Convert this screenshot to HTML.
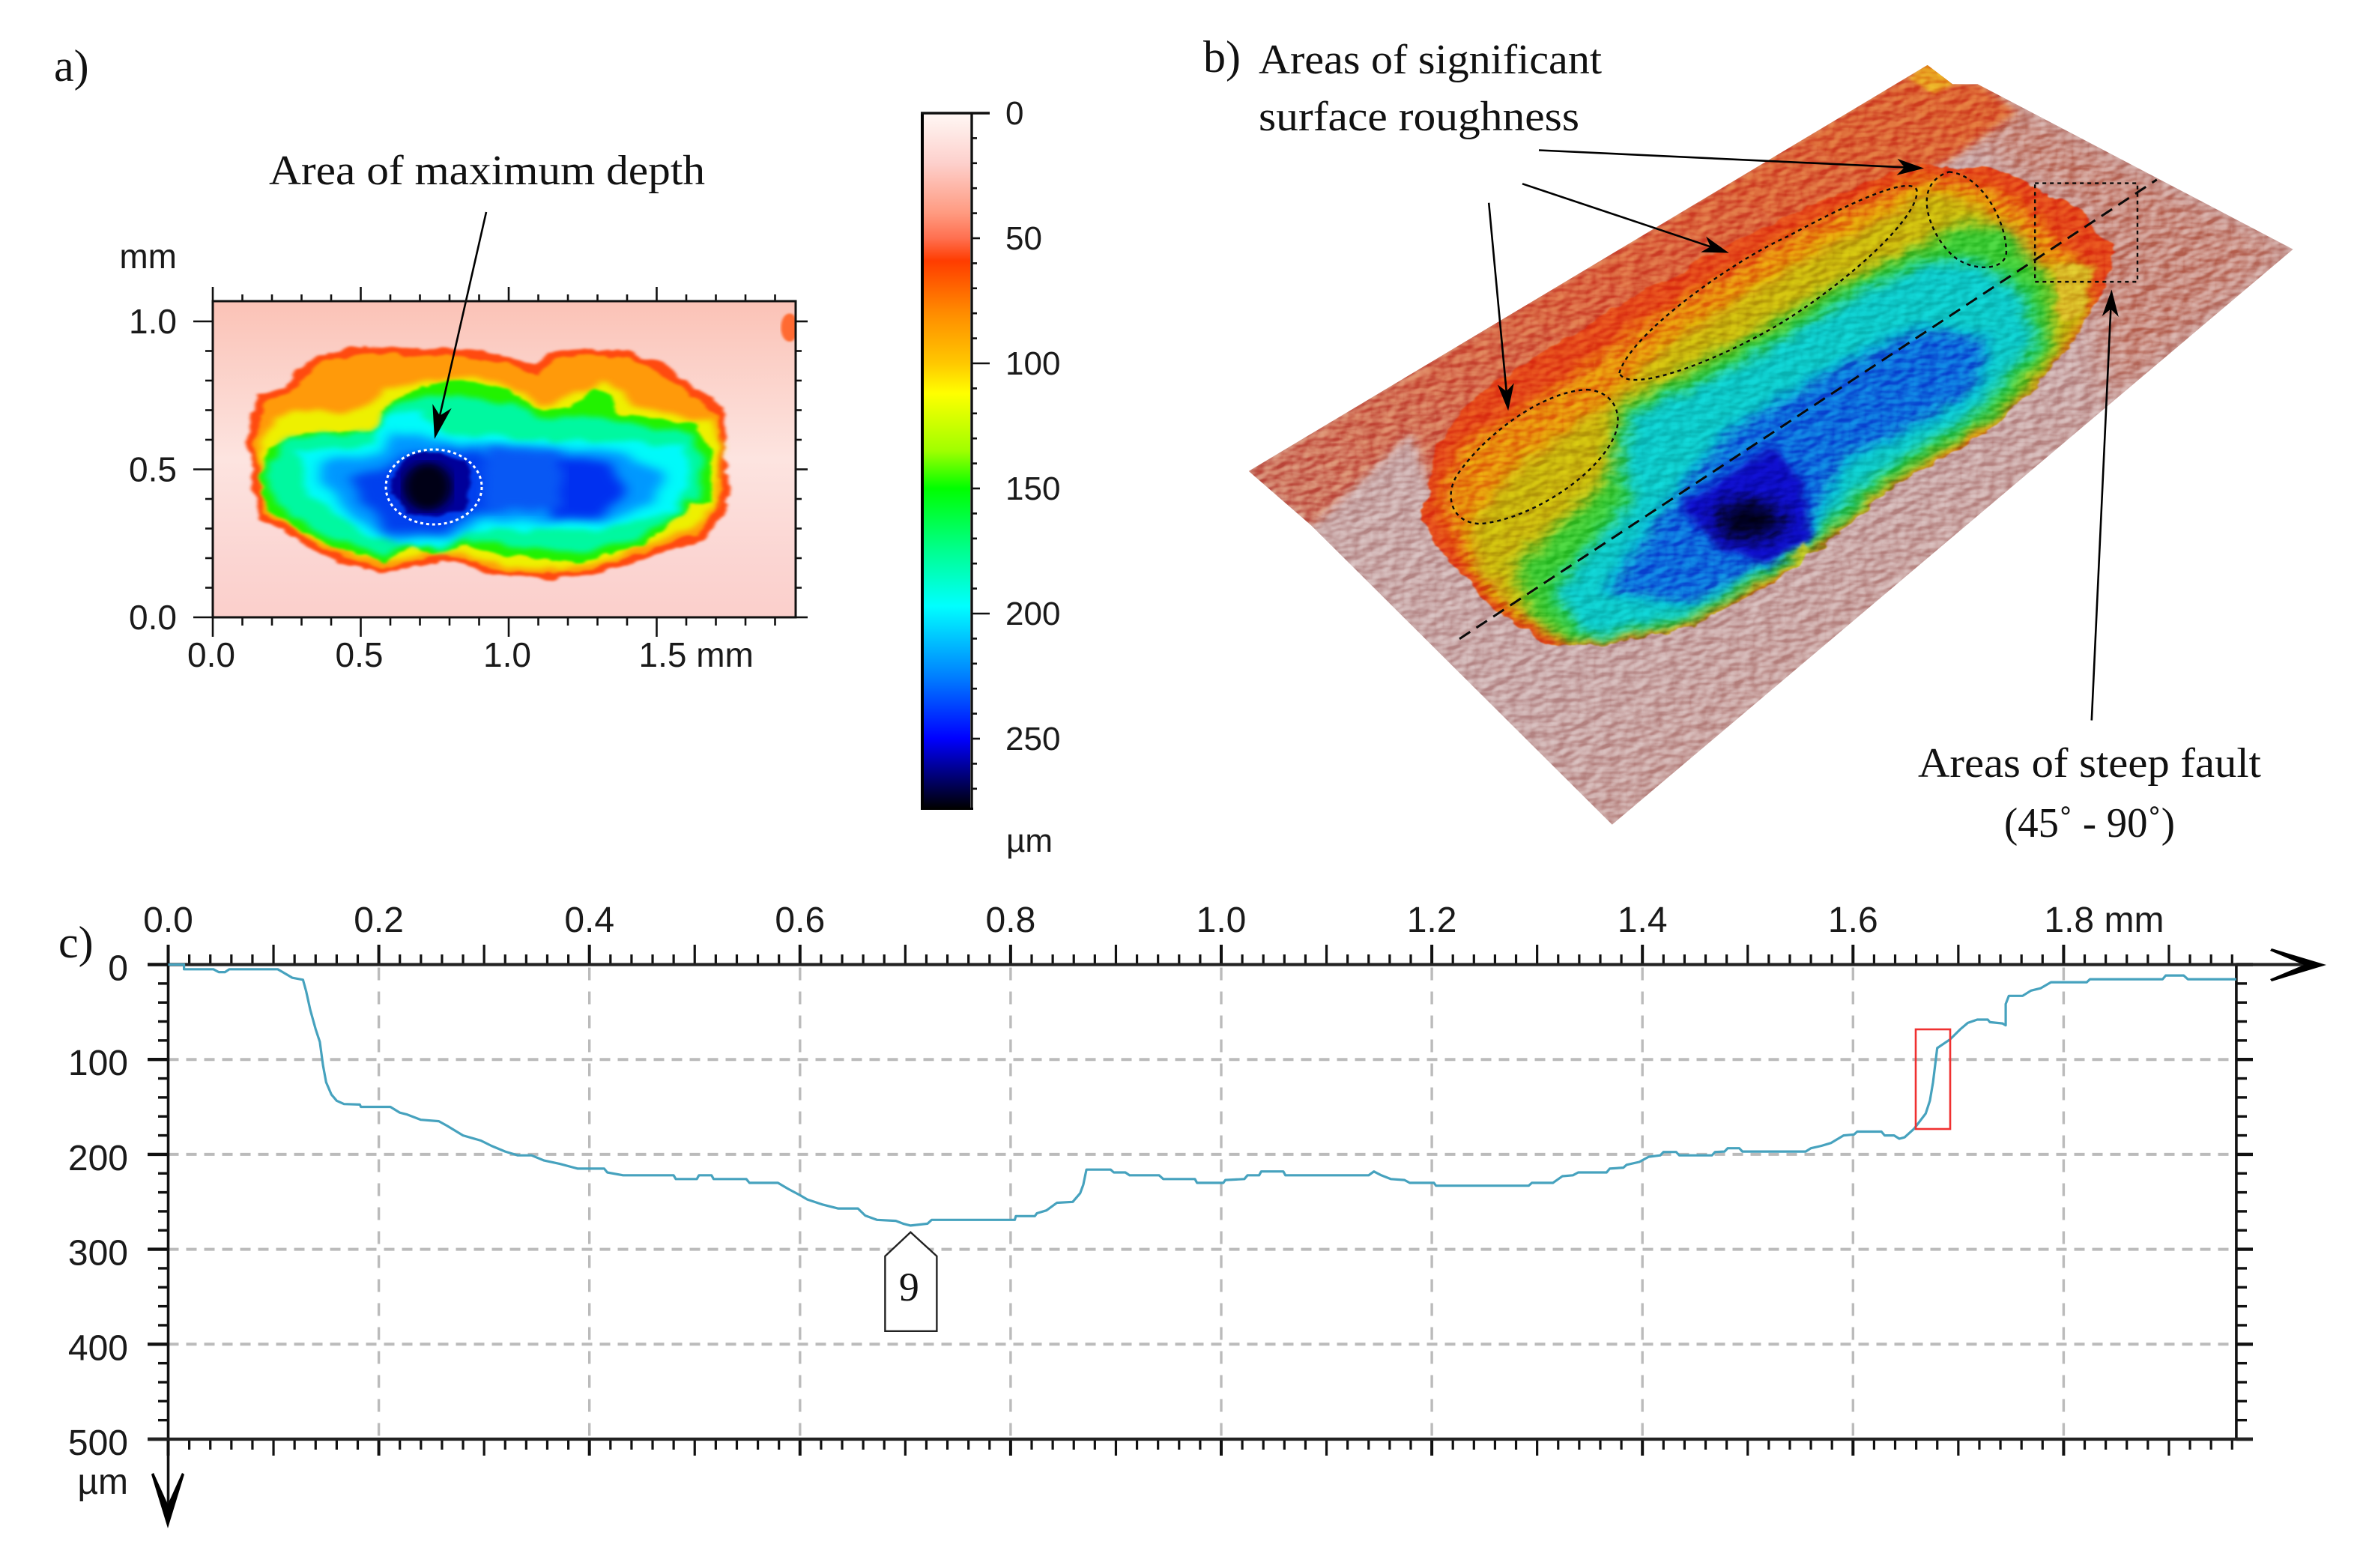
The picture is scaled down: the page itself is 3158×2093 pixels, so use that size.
<!DOCTYPE html>
<html lang="en">
<head>
<meta charset="utf-8">
<title>Surface depth analysis</title>
<style>
html,body{margin:0;padding:0;background:#fff;}
svg{display:block;}
.serif{font-family:"Liberation Serif",serif;font-size:56px;fill:#111;}
.panel-label{font-size:60px;}
.marker{font-size:54px;}
.sans{font-family:"Liberation Sans",sans-serif;fill:#1a1a1a;}
.tick-a{font-size:46px;}
.tick-b{font-size:44px;}
.tick-c{font-size:48px;}
</style>
</head>
<body>
<svg id="fig" xmlns="http://www.w3.org/2000/svg" width="3158" height="2093" viewBox="0 0 3158 2093">
<defs>
  <filter id="soft" x="-5%" y="-5%" width="110%" height="110%"><feGaussianBlur stdDeviation="3"/></filter>
  <filter id="softMid" x="-8%" y="-8%" width="116%" height="116%"><feGaussianBlur stdDeviation="7"/></filter>
  <filter id="soft2" x="-5%" y="-5%" width="110%" height="110%"><feGaussianBlur stdDeviation="12"/></filter>
  <filter id="soft3" x="-20%" y="-20%" width="140%" height="140%"><feGaussianBlur stdDeviation="16"/></filter>
  <filter id="softWide" x="-15%" y="-15%" width="130%" height="130%"><feGaussianBlur stdDeviation="24"/></filter>
  <filter id="orgA" x="-6%" y="-6%" width="112%" height="112%" color-interpolation-filters="sRGB">
    <feTurbulence type="fractalNoise" baseFrequency=".025" numOctaves="3" seed="3" result="n"/>
    <feDisplacementMap in="SourceGraphic" in2="n" scale="26" xChannelSelector="R" yChannelSelector="G"/>
    <feGaussianBlur stdDeviation="3.5"/>
  </filter>
  <filter id="orgB" x="-8%" y="-8%" width="116%" height="116%" color-interpolation-filters="sRGB">
    <feTurbulence type="fractalNoise" baseFrequency=".02" numOctaves="3" seed="11" result="n"/>
    <feDisplacementMap in="SourceGraphic" in2="n" scale="34" xChannelSelector="R" yChannelSelector="G"/>
    <feGaussianBlur stdDeviation="8"/>
  </filter>
  <filter id="orgC" x="-10%" y="-10%" width="120%" height="120%" color-interpolation-filters="sRGB">
    <feTurbulence type="fractalNoise" baseFrequency=".018" numOctaves="2" seed="5" result="n"/>
    <feDisplacementMap in="SourceGraphic" in2="n" scale="36" xChannelSelector="R" yChannelSelector="G"/>
    <feGaussianBlur stdDeviation="13"/>
  </filter>
  <filter id="ragged" x="-3%" y="-3%" width="106%" height="106%" color-interpolation-filters="sRGB">
    <feTurbulence type="fractalNoise" baseFrequency=".035" numOctaves="3" seed="9" result="n"/>
    <feDisplacementMap in="SourceGraphic" in2="n" scale="18" xChannelSelector="R" yChannelSelector="G"/>
    <feGaussianBlur stdDeviation="1"/>
  </filter>
  <filter id="bump" x="0" y="0" width="100%" height="100%" color-interpolation-filters="sRGB">
    <feTurbulence type="fractalNoise" baseFrequency=".045 .06" numOctaves="2" seed="7"/>
    <feDiffuseLighting surfaceScale="6" lighting-color="#ffffff"><feDistantLight azimuth="225" elevation="30"/></feDiffuseLighting>
  </filter>
  <linearGradient id="mapA" x1="0" y1="0" x2="0" y2="1">
    <stop offset="0" stop-color="#fbc2b6"/><stop offset=".18" stop-color="#fbcfc6"/>
    <stop offset=".5" stop-color="#fde4e0"/><stop offset=".82" stop-color="#fbd5d2"/><stop offset="1" stop-color="#fbcfcb"/>
  </linearGradient>
  <linearGradient id="baseB" x1="0" y1="0" x2="1" y2="1">
    <stop offset="0" stop-color="#caa9a7"/><stop offset=".55" stop-color="#c9a8a8"/><stop offset="1" stop-color="#c99388"/>
  </linearGradient>
  <linearGradient id="rimB" x1="0" y1="1" x2="1" y2="0">
    <stop offset="0" stop-color="#cc7a68"/><stop offset=".45" stop-color="#d96440"/><stop offset="1" stop-color="#dc6230"/>
  </linearGradient>
  <clipPath id="clipMapA"><rect x="284" y="402" width="778" height="422"/></clipPath>
  <clipPath id="clipSurface"><polygon points="28,855 975,68 1010,105 1045,105 1485,425 535,1540 115,960"/></clipPath>
  <clipPath id="clipCrater"><polygon points="270,950 290,800 360,690 560,520 760,370 960,260 1070,270 1180,340 1240,430 1215,520 1170,620 1120,700 1050,790 930,880 830,1000 760,1070 640,1160 500,1195 440,1190 370,1120 300,1020"/></clipPath>
  <linearGradient id="colorbarGradient" x1="0" y1="0" x2="0" y2="1"></linearGradient>
</defs>

<rect x="0" y="0" width="3158" height="2093" fill="#ffffff"/>

<!-- PANEL A -->
<text class="serif panel-label" x="72" y="108">a)</text>
<g clip-path="url(#clipMapA)">
  <rect x="284" y="402" width="778" height="422" fill="url(#mapA)"/>
  <g transform="translate(60 180) scale(.6505 .472)">
    <ellipse cx="1528" cy="545" rx="18" ry="40" fill="#ff6a30" filter="url(#soft)"/>
    <g>
      <polygon filter="url(#orgA)" fill="#ff4a10" points="520,660 560,620 640,600 720,600 800,605 880,610 960,630 1010,650 1040,620 1100,605 1200,610 1270,650 1330,710 1390,770 1395,860 1395,950 1410,985 1385,1090 1350,1150 1280,1175 1200,1210 1130,1245 1050,1255 950,1250 900,1240 860,1210 800,1205 700,1240 620,1215 540,1170 490,1120 440,1090 430,1000 415,870 435,740 500,710"/>
      <polygon filter="url(#orgA)" fill="#ff9a0a" points="530,690 570,640 640,620 720,620 800,625 880,635 960,650 1010,680 1040,640 1100,625 1200,630 1260,670 1320,730 1375,790 1380,870 1380,960 1392,985 1370,1070 1335,1130 1270,1160 1190,1195 1120,1230 1050,1240 950,1235 905,1222 860,1195 800,1190 700,1225 625,1200 550,1155 500,1105 450,1075 445,1000 430,870 450,755 510,725"/>
      <polygon filter="url(#orgB)" fill="#eef000" points="445,870 470,790 560,770 600,790 660,760 700,720 780,700 860,680 960,710 1020,770 1080,740 1140,690 1180,730 1210,770 1320,800 1370,810 1385,900 1375,1040 1330,1110 1260,1150 1185,1185 1115,1220 1050,1228 955,1222 905,1205 860,1180 800,1178 700,1212 630,1188 555,1140 505,1095 460,1060 450,1000"/>
      <polygon filter="url(#orgA)" fill="#22f200" points="465,890 500,850 680,835 690,780 740,730 800,705 880,695 960,725 1020,785 1080,765 1130,715 1160,735 1180,790 1340,820 1370,900 1368,1040 1330,1040 1280,1100 1230,1160 1100,1210 950,1190 860,1160 800,1185 750,1160 700,1205 620,1180 530,1125 460,1065 440,960"/>
      <polygon filter="url(#orgB)" fill="#00f8a0" points="480,880 510,855 680,840 700,790 760,745 850,735 960,765 1030,805 1100,795 1180,805 1250,830 1325,835 1345,900 1350,1030 1320,1035 1270,1100 1210,1150 1100,1180 960,1165 860,1140 810,1175 750,1150 700,1190 620,1160 530,1100 470,1040 455,960"/>
      <polygon filter="url(#orgB)" fill="#00fafa" points="520,900 680,870 690,800 770,785 830,850 900,850 1000,860 1150,870 1310,880 1325,1000 1285,1065 1150,1115 1000,1115 870,1115 805,1165 720,1155 640,1115 540,1010"/>
      <polygon filter="url(#orgC)" fill="#0098ff" points="560,925 690,905 710,840 780,850 850,870 1000,880 1190,900 1270,960 1255,1035 1150,1095 1040,1090 900,1085 830,1140 715,1145 640,1090 575,1000"/>
      <polygon filter="url(#orgC)" fill="#0040ee" points="620,965 700,950 730,900 880,890 950,930 930,1050 860,1085 820,1125 700,1130 660,1040"/>
      <polygon filter="url(#orgC)" fill="#0030f0" points="1040,910 1160,930 1195,1010 1130,1090 1050,1085 1015,990"/>
      <polygon filter="url(#orgC)" fill="#0858f4" points="900,880 1060,900 1060,1060 900,1060"/>
      <polygon filter="url(#orgA)" fill="#00009a" points="725,925 780,898 860,920 875,980 862,1060 800,1080 740,1070 710,1010"/>
    </g>
    <ellipse cx="785" cy="995" rx="50" ry="68" fill="#000018" filter="url(#soft2)"/>
  </g>
  <ellipse cx="579" cy="650" rx="64" ry="50" fill="none" stroke="#fff" stroke-width="3" stroke-dasharray="4 4"/>
</g>
<text class="serif" x="359" y="246" textLength="582" lengthAdjust="spacingAndGlyphs">Area of maximum depth</text>
<line x1="649" y1="283" x2="587" y2="555" stroke="#000" stroke-width="2.6"/>
<polygon points="580,586 602.7,544.9 587.1,554.8 577.3,539.1" fill="#000"/>
<g id="panelAAxes"></g>

<!-- COLOUR BAR -->
<g id="colorbar"></g>

<!-- PANEL B -->
<text class="serif panel-label" x="1606" y="96">b)</text>
<text class="serif" x="1680" y="98" textLength="458" lengthAdjust="spacingAndGlyphs">Areas of significant</text>
<text class="serif" x="1680" y="174" textLength="428" lengthAdjust="spacingAndGlyphs">surface roughness</text>
<text class="serif" x="2560" y="1037" textLength="458" lengthAdjust="spacingAndGlyphs">Areas of steep fault</text>
<text class="serif" x="2675" y="1117" textLength="228" lengthAdjust="spacingAndGlyphs">(45˚ - 90˚)</text>

<g transform="translate(1640 40) scale(.9566 .6888)">
  <polygon points="28,855 975,68 1010,105 1045,105 1485,425 535,1540 115,960" fill="url(#baseB)"/>
  <g clip-path="url(#clipSurface)">
    <polygon points="1045,105 1485,425 1230,720 1180,340 1060,250" fill="#c98c80" filter="url(#softWide)"/>
    <polygon points="20,855 975,60 1020,100 1050,100 1100,160 1010,250 560,540 340,740 285,900 255,780 115,965" fill="url(#rimB)" filter="url(#softMid)"/>
    <polygon points="975,60 1015,100 985,125 950,95" fill="#e8a020" filter="url(#soft)"/>
  </g>
  <g filter="url(#ragged)">
    <polygon fill="#e4481a" points="270,950 290,800 360,690 560,520 760,370 960,260 1070,270 1180,340 1240,430 1215,520 1170,620 1120,700 1050,790 930,880 830,1000 760,1070 640,1160 500,1195 440,1190 370,1120 300,1020"/>
    <g clip-path="url(#clipCrater)">
      <polygon filter="url(#soft2)" fill="#e88c10" points="295,910 330,800 430,720 590,560 790,395 960,285 1060,300 1145,390 1190,470 1180,540 1150,630 1050,770 930,870 820,1000 640,1160 480,1190 390,1120 325,1010"/>
      <polygon filter="url(#soft2)" fill="#c8b410" points="335,960 405,840 525,725 610,610 805,440 980,310 1055,340 1100,470 1190,450 1200,560 1140,680 1050,780 930,870 830,990 760,1060 640,1150 480,1190 390,1120 345,1040"/>
      <polygon filter="url(#soft2)" fill="#3ecb34" points="400,1040 530,870 545,730 720,600 870,480 960,425 1020,375 1090,385 1150,500 1150,620 1080,740 930,870 810,1010 640,1150 480,1190 420,1130"/>
      <polygon filter="url(#soft2)" fill="#0ec8c8" points="450,1090 560,910 545,840 560,745 720,640 880,505 980,445 1050,450 1110,510 1130,600 1050,740 920,850 810,990 640,1140 500,1180"/>
      <polygon filter="url(#soft2)" fill="#0e6cdc" points="525,1090 610,925 700,775 860,645 970,575 1060,600 1040,700 940,780 860,830 800,990 650,1110"/>
      <polygon filter="url(#softMid)" fill="#0c0cc4" points="630,920 760,805 805,880 812,990 750,1035 680,1005"/>
      <ellipse cx="725" cy="950" rx="46" ry="40" fill="#02021e" filter="url(#soft3)"/>
      <polygon filter="url(#soft)" fill="#b4c020" points="800,990 815,1010 810,1050 785,1050"/>
      <polygon filter="url(#soft)" fill="#d8b828" points="1150,450 1205,460 1195,540 1160,570"/>
    </g>
  </g>
  <g clip-path="url(#clipSurface)" style="mix-blend-mode:overlay" opacity=".42">
    <rect x="0" y="50" width="1500" height="1500" filter="url(#bump)"/>
  </g>
  <g fill="none" stroke="#0a0a0a">
    <path vector-effect="non-scaling-stroke" stroke-width="2.4" stroke-dasharray="5 5" d="M545,665 C560,590 700,450 780,400 C860,340 950,280 960,310 C965,360 870,480 780,560 C700,630 560,710 545,665Z"/>
    <path vector-effect="non-scaling-stroke" stroke-width="2.4" stroke-dasharray="5 5" d="M1005,275 C1050,280 1085,370 1085,430 C1085,470 1030,470 1005,430 C980,395 950,300 1005,275Z"/>
    <path vector-effect="non-scaling-stroke" stroke-width="2.4" stroke-dasharray="5 5" d="M500,697 C535,700 550,740 540,780 C520,860 420,950 350,957 C310,955 300,900 320,860 C360,780 440,700 500,697Z"/>
    <rect vector-effect="non-scaling-stroke" x="1125" y="297" width="143" height="191" stroke-width="2.4" stroke-dasharray="5 5"/>
    <line vector-effect="non-scaling-stroke" x1="322" y1="1180" x2="1295" y2="290" stroke-width="3" stroke-dasharray="17 10"/>
  </g>
</g>
<g>
  <line x1="2054" y1="200.5" x2="2542" y2="223.4" stroke="#000" stroke-width="2.6"/>
  <polygon points="2568,224.6 2531.5,233.9 2542,223.4 2532.5,211.9" fill="#000"/>
  <line x1="2032" y1="245.3" x2="2283" y2="329.3" stroke="#000" stroke-width="2.6"/>
  <polygon points="2307.7,337.6 2270.1,336.6 2283,329.3 2277.1,315.8" fill="#000"/>
  <line x1="1987.2" y1="270.7" x2="2010.7" y2="522.4" stroke="#000" stroke-width="2.6"/>
  <polygon points="2013.1,548.3 2020.8,511.4 2010.7,522.4 1998.8,513.4" fill="#000"/>
  <line x1="2791.8" y1="961.6" x2="2817.3" y2="412.5" stroke="#000" stroke-width="2.6"/>
  <polygon points="2818.5,386.5 2827.8,423 2817.3,412.5 2805.8,422" fill="#000"/>
</g>

<!-- PANEL C -->
<text class="serif panel-label" x="78" y="1278">c)</text>
<g id="profileChart"></g>
<rect x="2557" y="1374" width="46" height="133" fill="none" stroke="#f03030" stroke-width="2.6"/>

<script>
// ---- Depth profile data (panel c) ----
const profileMm = [0,.015,.015,.043,.048,.054,.058,.104,.108,.118,.128,.131,.135,.14,.144,.147,.15,.155,.16,.167,.182,.183,.211,.22,.227,.24,.257,.265,.28,.297,.307,.32,.332,.345,.357,.372,.389,.414,.417,.432,.48,.482,.502,.504,.516,.518,.549,.552,.579,.589,.6,.607,.622,.636,.655,.662,.673,.691,.698,.705,.721,.725,.804,.805,.823,.825,.834,.844,.859,.866,.869,.872,.895,.898,.909,.913,.941,.945,.975,.977,1.002,1.004,1.022,1.025,1.036,1.038,1.059,1.061,1.14,1.145,1.152,1.161,1.174,1.179,1.202,1.204,1.292,1.295,1.315,1.324,1.334,1.339,1.366,1.369,1.382,1.385,1.397,1.406,1.417,1.42,1.432,1.435,1.466,1.469,1.478,1.481,1.492,1.495,1.555,1.56,1.57,1.579,1.591,1.601,1.604,1.627,1.63,1.639,1.644,1.649,1.658,1.669,1.673,1.676,1.68,1.692,1.702,1.709,1.718,1.728,1.73,1.742,1.745,1.745,1.748,1.761,1.769,1.778,1.788,1.822,1.825,1.894,1.897,1.914,1.918,1.964];
const profileDepth = [0,0,5,5,8,8,5,5,7.5,14,16,28,48,68,81.5,106,124,137,143.5,147,147.5,150,150,156,158,163.5,165,170,180,185.5,191,197,201,201,206.5,210,215,215,219,222,222,226,226,222,222,226,226,230,230,236.5,243,247.5,253,257,257,264.5,269,270,273,275,273,269,269,265,265,262,259,251,250,241,232,216,216,219,219,222,222,226,226,230,230,227,226,222,222,218,218,222,222,218,222,226,227,230,230,233,233,230,230,223,222,219,219,215,214,211,208,202.5,201,197.5,197.5,201,201,197.5,197,193.5,193.5,197,197,193.5,191,188,180,179,176,176,180,180,183.5,182,173,157,143.5,124,88,79,68,61.5,58,58,60.7,62,64,41.6,33,33,27.5,25,18.6,18.6,15.5,15.5,11.5,11.5,15.5,15.5];
const profileXLabels = ['0.0','0.2','0.4','0.6','0.8','1.0','1.2','1.4','1.6','1.8 mm'];
const profileXLabelValues = [0,.2,.4,.6,.8,1,1.2,1.4,1.6,1.8];
const profileYLabels = ['0','100','200','300','400','500'];
const profileYValues = [0,100,200,300,400,500];
const calloutLabel = '9';
const calloutMm = .705;
const calloutDepth = 282;

// ---- Panel a axis data ----
const mapXLabels = ['0.0','0.5','1.0','1.5 mm'];
const mapXValues = [0,.5,1,1.5];
const mapYLabels = ['1.0','0.5','0.0'];
const mapYValues = [1,.5,0];

// ---- Colour bar data ----
const colorbarLabels = ['0','50','100','150','200','250'];
const colorbarValues = [0,50,100,150,200,250];
const colormapDepths = [0,20,40,50,59,80,100,112,135,150,175,197,225,250,278];
const colormapColors = ['#fff8f5','#fdd0cc','#ff9a80','#ff7050','#ff3c00','#ff8c00','#ffc800','#ffff00','#a0ff00','#00ff00','#00ff90','#00ffff','#0080ff','#0000ff','#000000'];
const colorbarMaxDepth = 278;

const NS = 'http://www.w3.org/2000/svg';
function mk(tag, attrs, parent, txt) {
  const el = document.createElementNS(NS, tag);
  for (const k in attrs) el.setAttribute(k, attrs[k]);
  if (txt !== undefined) el.textContent = txt;
  parent.appendChild(el);
  return el;
}

// ---- Axis functions ----
const cx = m => 224.5 + 1405.5 * m;
const cy = d => 1287.5 + 1.267 * d;
const ax = m => 284 + 395 * m;
const ay = m => 824 - 395 * m;
const by = v => 151 + 3.34 * v;

// ================= Panel c =================
const pc = document.getElementById('profileChart');
const plotRightMm = 1.964;
for (let v = 100; v <= 400; v += 100) {
  const el = mk('line', {x1: cx(0), x2: cx(plotRightMm), y1: cy(v), y2: cy(v), stroke: '#bbbbbb', 'stroke-width': 4, 'stroke-dasharray': '14 10'}, pc);
  
  
}
for (let i = 1; i <= 9; i++) {
  const m = i * .2;
  const el = mk('line', {x1: cx(m), x2: cx(m), y1: cy(0) + 4, y2: cy(500), stroke: '#bbbbbb', 'stroke-width': 3.4, 'stroke-dasharray': '17 15'}, pc);
  
  
}
for (let i = 0; i <= 98; i++) {
  const m = i * .02;
  const major = i % 5 === 0;
  const top = mk('line', {x1: cx(m), x2: cx(m), y1: cy(0), y2: major ? 1261 : 1274, stroke: '#111', 'stroke-width': i % 10 === 0 ? 4 : 3.2}, pc);
  
  
  const bottom = mk('line', {x1: cx(m), x2: cx(m), y1: cy(500), y2: major ? 1943 : 1935, stroke: '#111', 'stroke-width': i % 10 === 0 ? 4 : 3.2}, pc);
  
  
}
for (let v = 0; v <= 500; v += 20) {
  const major = v % 100 === 0;
  const left = mk('line', {x1: cx(0), x2: major ? 197 : 211, y1: cy(v), y2: cy(v), stroke: '#111', 'stroke-width': major ? 4.4 : 3.4}, pc);
  
  
  const right = mk('line', {x1: cx(plotRightMm), x2: major ? 3007 : 2999, y1: cy(v), y2: cy(v), stroke: '#111', 'stroke-width': major ? 4.4 : 3.4}, pc);
  
  
}
const leftAxis = mk('line', {x1: cx(0), x2: cx(0), y1: 1261, y2: 2015, stroke: '#111', 'stroke-width': 3.6}, pc);


const rightAxis = mk('line', {x1: cx(plotRightMm), x2: cx(plotRightMm), y1: cy(0), y2: cy(500), stroke: '#111', 'stroke-width': 3.6}, pc);


const topAxis = mk('line', {x1: cx(0), x2: 3078, y1: cy(0), y2: cy(0), stroke: '#222', 'stroke-width': 4.2}, pc);


const bottomAxis = mk('line', {x1: 197, x2: 3007, y1: cy(500), y2: cy(500), stroke: '#222', 'stroke-width': 4.2}, pc);


const arrowRight = mk('polygon', {points: '3032,1266 3105,1288 3032,1310 3030,1307 3075,1288 3030,1269', fill: '#000'}, pc);


const arrowDown = mk('polygon', {points: '202,1968 224,2040 246,1968 243,1966 224,2008 205,1966', fill: '#000'}, pc);



profileXLabels.forEach((t, i) => {
  const m = profileXLabelValues[i];
  const isUnit = t.indexOf('mm') >= 0;
  const el = mk('text', {x: isUnit ? cx(m) - 26 : cx(m), y: 1244, 'text-anchor': isUnit ? 'start' : 'middle', class: 'sans tick-c'}, pc, t);
  
  
});
profileYLabels.forEach((t, i) => {
  const el = mk('text', {x: 171, y: cy(profileYValues[i]) + 21, 'text-anchor': 'end', class: 'sans tick-c'}, pc, t);
  
  
});
const unitC = mk('text', {x: 171, y: 1994, 'text-anchor': 'end', class: 'sans tick-c'}, pc, 'µm');



const profilePts = profileMm.map((m, i) => cx(m).toFixed(1) + ',' + cy(profileDepth[i]).toFixed(1)).join(' ');
const profile = mk('polyline', {points: profilePts, fill: 'none', stroke: '#46a2be', 'stroke-width': 3.2, 'stroke-linejoin': 'round'}, pc);



const tipX = cx(calloutMm), tipY = cy(calloutDepth);
const callout = mk('polygon', {points: [[tipX, tipY], [tipX + 35, tipY + 32], [tipX + 35, tipY + 132], [tipX - 34, tipY + 132], [tipX - 34, tipY + 32]].map(p => p.join(',')).join(' '), fill: '#fff', stroke: '#222', 'stroke-width': 2.4}, pc);


const calloutText = mk('text', {x: tipX - 2, y: tipY + 91, 'text-anchor': 'middle', class: 'serif marker'}, pc, calloutLabel);



// ================= Panel a axes =================
const pa = document.getElementById('panelAAxes');
const frameA = mk('rect', {x: 284, y: 402, width: 778, height: 422, fill: 'none', stroke: '#111', 'stroke-width': 3}, pa);


for (let i = 0; i <= 19; i++) {
  const m = i * .1;
  const major = i % 5 === 0;
  if (ax(m) > 1063) continue;
  const top = mk('line', {x1: ax(m), x2: ax(m), y1: 402, y2: major ? 383 : 393, stroke: '#111', 'stroke-width': 2.6}, pa);
  
  
  const bottom = mk('line', {x1: ax(m), x2: ax(m), y1: 824, y2: major ? 850 : 835, stroke: '#111', 'stroke-width': 2.6}, pa);
  
  
}
for (let i = 0; i <= 10; i++) {
  const m = i * .1;
  const major = i % 5 === 0;
  const left = mk('line', {x1: 284, x2: major ? 258 : 274, y1: ay(m), y2: ay(m), stroke: '#111', 'stroke-width': 2.6}, pa);
  
  
  const right = mk('line', {x1: 1062, x2: major ? 1078 : 1070, y1: ay(m), y2: ay(m), stroke: '#111', 'stroke-width': 2.6}, pa);
  
  
}
mapXLabels.forEach((t, i) => {
  const unit = t.indexOf('mm') >= 0;
  const el = mk('text', {x: unit ? ax(mapXValues[i]) - 24 : ax(mapXValues[i]) - 2, y: 890, 'text-anchor': unit ? 'start' : 'middle', class: 'sans tick-a'}, pa, t);
  
  
});
mapYLabels.forEach((t, i) => {
  const el = mk('text', {x: 236, y: ay(mapYValues[i]) + 16, 'text-anchor': 'end', class: 'sans tick-a'}, pa, t);
  
  
});
const unitA = mk('text', {x: 236, y: 358, 'text-anchor': 'end', class: 'sans tick-a'}, pa, 'mm');



// ================= Colour bar =================
const grad = document.getElementById('colorbarGradient');
colormapDepths.forEach((d, i) => {
  mk('stop', {offset: d / colorbarMaxDepth, 'stop-color': colormapColors[i]}, grad);
});
const cb = document.getElementById('colorbar');
const bar = mk('rect', {x: 1232, y: by(0), width: 63, height: by(colorbarMaxDepth) - by(0), fill: 'url(#colorbarGradient)'}, cb);


const leftEdge = mk('line', {x1: 1231, x2: 1231, y1: by(0), y2: by(colorbarMaxDepth), stroke: '#000', 'stroke-width': 4}, cb);


const rightEdge = mk('line', {x1: 1297, x2: 1297, y1: by(0), y2: by(colorbarMaxDepth), stroke: '#111', 'stroke-width': 3.4}, cb);


const bottomEdge = mk('line', {x1: 1229, x2: 1299, y1: by(colorbarMaxDepth), y2: by(colorbarMaxDepth), stroke: '#000', 'stroke-width': 3}, cb);


for (let v = 0; v <= 270; v += 10) {
  const big = v % 100 === 0;
  const mid = v % 50 === 0;
  const tick = mk('line', {x1: big && v === 0 ? 1229 : 1297, x2: big ? 1321 : (mid ? 1308 : 1304), y1: by(v), y2: by(v), stroke: '#111', 'stroke-width': v === 0 ? 3.4 : 2.6}, cb);
  
  
}
colorbarLabels.forEach((t, i) => {
  const el = mk('text', {x: 1342, y: by(colorbarValues[i]) + 15, class: 'sans tick-b'}, cb, t);
  
  
});
const unitB = mk('text', {x: 1343, y: 1137, class: 'sans tick-b'}, cb, 'µm');


</script>
</svg>
</body>
</html>
